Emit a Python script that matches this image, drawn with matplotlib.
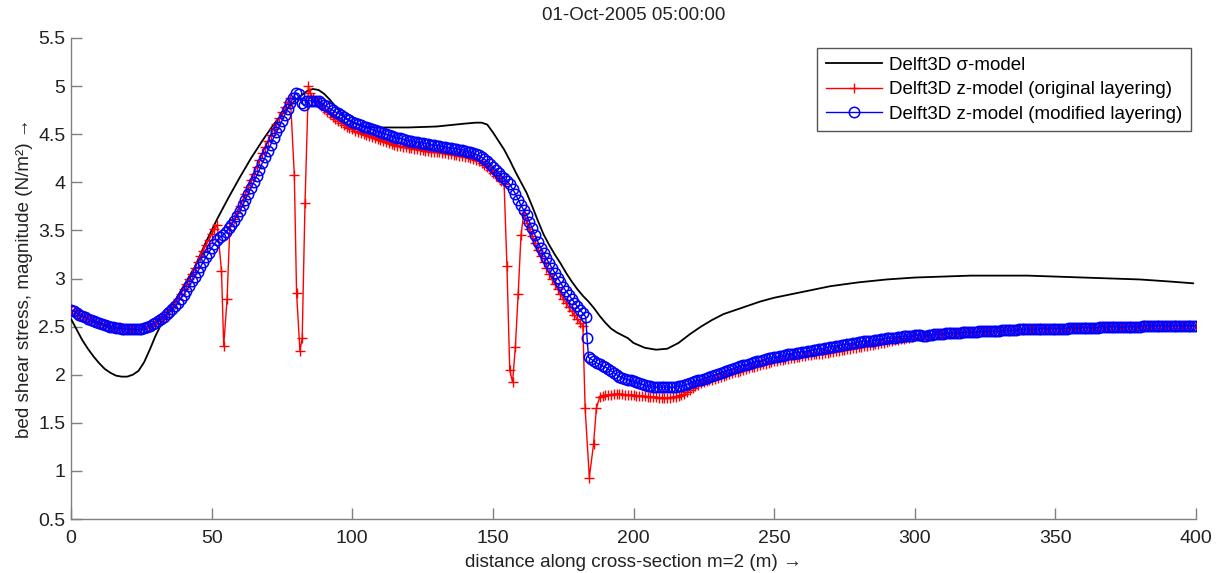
import matplotlib
matplotlib.use("Agg")
import matplotlib.pyplot as plt

plt.rcParams['font.family'] = ['Liberation Sans', 'DejaVu Sans']

# ---------------- data ----------------
title = "01-Oct-2005 05:00:00"
xlabel = "distance along cross-section m=2 (m) \u2192"
ylabel = "bed shear stress, magnitude (N/m\u00b2) \u2192"
labels = ["Delft3D \u03c3-model",
          "Delft3D z-model (original layering)",
          "Delft3D z-model (modified layering)"]
x_ticks = [0, 50, 100, 150, 200, 250, 300, 350, 400]
y_ticks = [0.5, 1, 1.5, 2, 2.5, 3, 3.5, 4, 4.5, 5, 5.5]
y_ticklabels = ["0.5", "1", "1.5", "2", "2.5", "3", "3.5", "4", "4.5", "5", "5.5"]

# sigma-model (black line)
x_sigma = ([0, 2, 4, 6, 8, 10, 12, 14, 16, 18, 20, 22, 24, 26, 28, 30, 32, 34, 36, 38, 40,
            44, 48, 52, 56, 60, 64, 68, 72, 76, 80, 84,
            86, 88, 90, 92, 94, 96, 98, 100,
            104, 108, 112, 120, 130, 140, 144, 146, 148]
           + list(range(150, 201, 2))
           + [204, 208, 212, 216, 220, 224, 228, 232, 236, 240, 245, 250, 255, 260]
           + list(range(270, 391, 10)) + [399])
y_sigma = [2.58, 2.47, 2.36, 2.27, 2.19, 2.12, 2.06, 2.02, 1.99, 1.98, 1.98, 2.00, 2.04, 2.13,
           2.26, 2.40, 2.52, 2.62, 2.72, 2.82, 2.92,
           3.12, 3.38, 3.62, 3.84, 4.05, 4.25, 4.43, 4.60, 4.74, 4.86, 4.95,
           4.97, 4.96, 4.92, 4.86, 4.79, 4.72, 4.66, 4.62,
           4.58, 4.57, 4.57, 4.57, 4.58, 4.61, 4.62, 4.62, 4.60,
           4.52, 4.43, 4.34, 4.23, 4.11, 4.00, 3.89, 3.75, 3.60, 3.46, 3.35, 3.25, 3.16,
           3.06, 2.97, 2.89, 2.82, 2.76, 2.69, 2.61, 2.54, 2.48, 2.44, 2.41, 2.38, 2.33,
           2.28, 2.26, 2.27, 2.33, 2.42, 2.50, 2.57, 2.63, 2.67, 2.71,
           2.76, 2.80, 2.83, 2.86,
           2.92, 2.96, 2.99, 3.01, 3.02, 3.03, 3.03, 3.03, 3.02, 3.01, 3.00, 2.99, 2.97,
           2.95]

# z-model, original layering (red +)
x_orig = (list(range(0, 53)) + [53.5, 54.3, 55.5, 56.5]
          + list(range(58, 79)) + [79.4, 80.2, 81.4, 82.2, 83.2, 84.4]
          + list(range(85, 155)) + list(range(155, 162))
          + list(range(162, 183)) + [182.8, 184.3, 185.8, 186.8]
          + list(range(188, 401)))
y_orig = [
    2.67, 2.66, 2.64, 2.62, 2.61, 2.60, 2.58, 2.57, 2.56, 2.55,          # 0-9
    2.54, 2.53, 2.52, 2.51, 2.50, 2.50, 2.49, 2.49, 2.48, 2.48,          # 10-19
    2.47, 2.47, 2.47, 2.47, 2.47, 2.48, 2.49, 2.50, 2.51, 2.53,          # 20-29
    2.54, 2.56, 2.58, 2.60, 2.63, 2.66,                                  # 30-35
    2.70, 2.74, 2.79, 2.84, 2.89, 2.94, 3.00, 3.05, 3.11, 3.17,          # 36-45
    3.23, 3.29, 3.35, 3.40, 3.46, 3.51, 3.56,                            # 46-52
    3.08, 2.30, 2.79, 3.55,                                              # dip near 54
    3.62, 3.68,                                                          # 58-59
    3.75, 3.81, 3.88, 3.95, 4.02, 4.09, 4.16, 4.23, 4.30, 4.37,          # 60-69
    4.43, 4.49, 4.55, 4.61, 4.67, 4.73, 4.78, 4.83, 4.88,                # 70-78
    4.08, 2.85, 2.25, 2.38, 3.78, 5.00,                                  # dip near 81
    4.93, 4.88, 4.85, 4.82, 4.79,                                        # 85-89
    4.76, 4.73, 4.71, 4.68, 4.66, 4.64, 4.62, 4.60, 4.58, 4.56,          # 90-99
    4.55, 4.53, 4.52, 4.51, 4.50, 4.49, 4.48, 4.47, 4.46, 4.45,          # 100-109
    4.44, 4.43, 4.42, 4.41, 4.40, 4.39, 4.38, 4.38, 4.37, 4.37,          # 110-119
    4.36, 4.36, 4.35, 4.35, 4.34, 4.34, 4.33, 4.33, 4.32, 4.32,          # 120-129
    4.31, 4.31, 4.30, 4.30, 4.29, 4.29, 4.28, 4.28, 4.27, 4.27,          # 130-139
    4.26, 4.26, 4.25, 4.24, 4.23, 4.22, 4.20, 4.18, 4.16, 4.13,          # 140-149
    4.10, 4.07, 4.04, 4.01, 3.98,                                        # 150-154
    3.13, 2.05, 1.92, 2.29, 2.84, 3.45, 3.68,                            # 155-161
    3.58, 3.51, 3.44, 3.37, 3.30, 3.23, 3.17, 3.11, 3.05, 2.99,          # 162-171
    2.94, 2.89, 2.84, 2.79, 2.75, 2.70, 2.66, 2.62, 2.58, 2.54, 2.51,    # 172-182
    1.65, 0.93, 1.28, 1.65,                                              # dip near 184
    1.77, 1.78, 1.79, 1.79, 1.79, 1.80, 1.80, 1.80, 1.80, 1.79, 1.79, 1.79,  # 188-199
    1.79, 1.78, 1.78, 1.78, 1.78, 1.77, 1.77, 1.77, 1.77, 1.76,          # 200-209
    1.76, 1.76, 1.76, 1.76, 1.77, 1.77, 1.78, 1.79, 1.80, 1.82,          # 210-219
    1.84, 1.86, 1.88, 1.89, 1.91, 1.92, 1.93, 1.94, 1.95, 1.96,          # 220-229
    1.97, 1.98, 1.99, 2.00, 2.01, 2.02, 2.03, 2.03, 2.04, 2.05,          # 230-239
    2.06, 2.07, 2.08, 2.08, 2.09, 2.10, 2.11, 2.11, 2.12, 2.13,          # 240-249
    2.14, 2.14, 2.15, 2.15, 2.16, 2.16, 2.17, 2.17, 2.18, 2.18,          # 250-259
    2.19, 2.19, 2.20, 2.20, 2.21, 2.21, 2.22, 2.22, 2.23, 2.23,          # 260-269
    2.24, 2.24, 2.25, 2.25, 2.26, 2.26, 2.27, 2.27, 2.28, 2.28,          # 270-279
    2.29, 2.29, 2.30, 2.30, 2.31, 2.31, 2.32, 2.32, 2.33, 2.33,          # 280-289
    2.34, 2.35, 2.35, 2.36, 2.36, 2.37, 2.37, 2.38, 2.38, 2.39,          # 290-299
    2.41, 2.41, 2.41, 2.40, 2.40, 2.41, 2.41, 2.42, 2.42, 2.42,          # 300-309
    2.42, 2.43, 2.43, 2.43, 2.43, 2.43, 2.43, 2.44, 2.44, 2.44,          # 310-319
    2.44, 2.44, 2.44, 2.45, 2.45, 2.45, 2.45, 2.45, 2.45, 2.45,          # 320-329
    2.45, 2.46, 2.46, 2.46, 2.46, 2.46, 2.46, 2.47, 2.47, 2.47,          # 330-339
    2.47, 2.47, 2.47, 2.47, 2.47, 2.48, 2.48, 2.48, 2.48, 2.48,          # 340-349
    2.48, 2.48, 2.48, 2.48, 2.48, 2.49, 2.49, 2.49, 2.49, 2.49,          # 350-359
    2.49, 2.49, 2.49, 2.49, 2.49, 2.49, 2.50, 2.50, 2.50, 2.50,          # 360-369
    2.50, 2.50, 2.50, 2.50, 2.50, 2.50, 2.50, 2.50, 2.50, 2.50,          # 370-379
    2.50, 2.51, 2.51, 2.51, 2.51, 2.51, 2.51, 2.51, 2.51, 2.51,          # 380-389
    2.51, 2.51, 2.51, 2.51, 2.51, 2.51, 2.51, 2.51, 2.51, 2.51, 2.51,    # 390-400
]

# z-model, modified layering (blue o)
x_mod = list(range(0, 184)) + [183.5] + list(range(184, 401))
y_mod = [
    2.67, 2.66, 2.64, 2.62, 2.61, 2.60, 2.58, 2.57, 2.56, 2.55,          # 0-9
    2.54, 2.53, 2.52, 2.51, 2.50, 2.50, 2.49, 2.49, 2.48, 2.48,          # 10-19
    2.47, 2.47, 2.47, 2.47, 2.47, 2.48, 2.49, 2.50, 2.51, 2.53,          # 20-29
    2.54, 2.56, 2.58, 2.60, 2.63, 2.65, 2.68, 2.71, 2.75, 2.79,          # 30-39
    2.83, 2.87, 2.92, 2.97, 3.02, 3.07, 3.12, 3.17, 3.22, 3.27,          # 40-49
    3.32, 3.36, 3.40, 3.43, 3.45, 3.48, 3.52, 3.56, 3.60, 3.65,          # 50-59
    3.70, 3.76, 3.82, 3.88, 3.94, 4.00, 4.07, 4.13, 4.20, 4.26,          # 60-69
    4.33, 4.39, 4.46, 4.52, 4.58, 4.64, 4.70, 4.76, 4.82, 4.88,          # 70-79
    4.93, 4.92, 4.82, 4.80, 4.84, 4.85, 4.85, 4.85, 4.84, 4.82,          # 80-89
    4.80, 4.79, 4.77, 4.75, 4.73, 4.72, 4.70, 4.68, 4.66, 4.65,          # 90-99
    4.63, 4.62, 4.61, 4.60, 4.58, 4.57, 4.56, 4.55, 4.54, 4.53,          # 100-109
    4.52, 4.51, 4.50, 4.49, 4.48, 4.47, 4.46, 4.46, 4.45, 4.44,          # 110-119
    4.43, 4.43, 4.42, 4.42, 4.41, 4.41, 4.40, 4.40, 4.39, 4.39,          # 120-129
    4.38, 4.38, 4.37, 4.37, 4.36, 4.36, 4.35, 4.35, 4.34, 4.34,          # 130-139
    4.33, 4.32, 4.31, 4.30, 4.29, 4.28, 4.26, 4.24, 4.22, 4.19,          # 140-149
    4.16, 4.13, 4.10, 4.07, 4.04, 4.01, 3.98, 3.93, 3.88, 3.82,          # 150-159
    3.76, 3.71, 3.66, 3.59, 3.52, 3.45, 3.38, 3.32, 3.26, 3.21,          # 160-169
    3.16, 3.11, 3.06, 3.01, 2.96, 2.91, 2.87, 2.83, 2.79, 2.75,          # 170-179
    2.71, 2.67, 2.64, 2.60,                                              # 180-183
    2.38,                                                                # 183.5
    2.18, 2.16, 2.14, 2.12, 2.11, 2.09,                                  # 184-189
    2.08, 2.06, 2.04, 2.02, 2.00, 1.98, 1.97, 1.96, 1.95, 1.94,          # 190-199
    1.93, 1.92, 1.91, 1.90, 1.89, 1.88, 1.88, 1.87, 1.87, 1.87,          # 200-209
    1.87, 1.87, 1.87, 1.87, 1.87, 1.87, 1.88, 1.88, 1.89, 1.90,          # 210-219
    1.91, 1.92, 1.93, 1.94, 1.95, 1.96, 1.97, 1.98, 1.99, 2.00,          # 220-229
    2.01, 2.02, 2.03, 2.04, 2.05, 2.06, 2.07, 2.08, 2.09, 2.10,          # 230-239
    2.10, 2.11, 2.12, 2.13, 2.14, 2.14, 2.15, 2.16, 2.17, 2.17,          # 240-249
    2.18, 2.18, 2.19, 2.19, 2.20, 2.21, 2.22, 2.22, 2.23, 2.23,          # 250-259
    2.24, 2.24, 2.25, 2.25, 2.26, 2.26, 2.27, 2.27, 2.28, 2.28,          # 260-269
    2.29, 2.29, 2.30, 2.30, 2.31, 2.31, 2.32, 2.32, 2.33, 2.33,          # 270-279
    2.34, 2.34, 2.35, 2.35, 2.35, 2.35, 2.36, 2.36, 2.37, 2.37,          # 280-289
    2.38, 2.38, 2.38, 2.38, 2.39, 2.39, 2.40, 2.40, 2.40, 2.40,          # 290-299
    2.41, 2.41, 2.41, 2.40, 2.40, 2.41, 2.41, 2.42, 2.42, 2.42,          # 300-309
    2.42, 2.43, 2.43, 2.43, 2.43, 2.43, 2.43, 2.44, 2.44, 2.44,          # 310-319
    2.44, 2.44, 2.44, 2.45, 2.45, 2.45, 2.45, 2.45, 2.45, 2.45,          # 320-329
    2.45, 2.46, 2.46, 2.46, 2.46, 2.46, 2.46, 2.47, 2.47, 2.47,          # 330-339
    2.47, 2.47, 2.47, 2.47, 2.47, 2.48, 2.48, 2.48, 2.48, 2.48,          # 340-349
    2.48, 2.48, 2.48, 2.48, 2.48, 2.49, 2.49, 2.49, 2.49, 2.49,          # 350-359
    2.49, 2.49, 2.49, 2.49, 2.49, 2.49, 2.50, 2.50, 2.50, 2.50,          # 360-369
    2.50, 2.50, 2.50, 2.50, 2.50, 2.50, 2.50, 2.50, 2.50, 2.50,          # 370-379
    2.50, 2.51, 2.51, 2.51, 2.51, 2.51, 2.51, 2.51, 2.51, 2.51,          # 380-389
    2.51, 2.51, 2.51, 2.51, 2.51, 2.51, 2.51, 2.51, 2.51, 2.51, 2.51,    # 390-400
]

# ---------------- figure ----------------
W, H = 1223, 573
fig = plt.figure(figsize=(W / 100, H / 100), dpi=100)
ax = fig.add_axes([71 / W, 1 - 519 / H, (1196 - 71) / W, (519 - 38) / H])

ax.plot(x_sigma, y_sigma, color='black', lw=1.3, label=labels[0], zorder=3)
ax.plot(x_orig, y_orig, color='red', lw=1.0, marker='+', ms=7.5, mew=1.0,
        label=labels[1], zorder=4)
ax.plot(x_mod, y_mod, color='blue', lw=1.0, marker='o', ms=7.5, mfc='none', mew=1.1,
        label=labels[2], zorder=5)

ax.set_xlim(0, 400)
ax.set_ylim(0.5, 5.5)
ax.set_xticks(x_ticks)
ax.set_yticks(y_ticks)
ax.set_yticklabels(y_ticklabels)

for s in ['top', 'right']:
    ax.spines[s].set_visible(False)
for s in ['left', 'bottom']:
    ax.spines[s].set_color('#808080')
    ax.spines[s].set_linewidth(1.0)
ax.tick_params(direction='in', length=8, width=1.0, color='#808080',
               labelsize=14, labelcolor='#222222')
ax.tick_params(axis='x', pad=8)
ax.tick_params(axis='y', pad=4)

ax.set_title(title, fontsize=13.5, color='#222222', pad=13)
ax.set_xlabel(xlabel, fontsize=13.6, color='#222222', labelpad=5)
ax.set_ylabel(ylabel, fontsize=13.6, color='#222222', labelpad=4)

leg = ax.legend(loc='upper right', bbox_to_anchor=(0.9956, 0.979), fontsize=13.5,
                frameon=True, fancybox=False, edgecolor='#555555', framealpha=1,
                borderaxespad=0, handlelength=3.0, handletextpad=0.4,
                labelspacing=0.4, borderpad=0.45)
leg.get_frame().set_linewidth(1.0)

fig.savefig("out.png", dpi=100, facecolor='white')
